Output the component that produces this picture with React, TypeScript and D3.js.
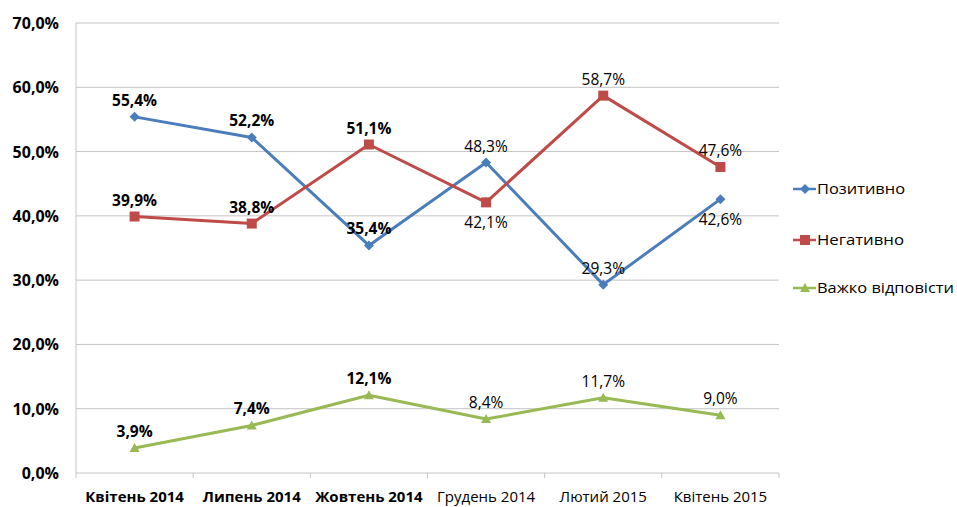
import React from "react";
import * as d3 from "d3";

const categories = ["Квітень 2014", "Липень 2014", "Жовтень 2014", "Грудень 2014", "Лютий 2015", "Квітень 2015"];
const positive = [55.4, 52.2, 35.4, 48.3, 29.3, 42.6];
const negative = [39.9, 38.8, 51.1, 42.1, 58.7, 47.6];
const hardToSay = [3.9, 7.4, 12.1, 8.4, 11.7, 9.0];
const yTicks = [0, 10, 20, 30, 40, 50, 60, 70];

// labels placed under the point instead of over it
const positiveBelow = [false, false, false, false, false, true];
const negativeBelow = [false, false, false, true, false, false];
const hardBelow = [false, false, false, false, false, false];

const W = 957;
const H = 507;
const margin = { top: 23, right: 178, bottom: 34, left: 76 };

const fmt = (v: number) => v.toFixed(1).replace(".", ",") + "%";
// the source picture renders the right half in a lighter weight
const weightAt = (i: number) => (i < 3 ? "bold" : "normal");

const series = [
  { name: "Позитивно", values: positive, below: positiveBelow, color: "#4a7ebb", shape: "diamond", legendY: 189, legendW: 88 },
  { name: "Негативно", values: negative, below: negativeBelow, color: "#be4b48", shape: "square", legendY: 240, legendW: 87 },
  { name: "Важко відповісти", values: hardToSay, below: hardBelow, color: "#98b954", shape: "triangle", legendY: 288, legendW: 137 },
];

const Marker = ({ shape, x, y, color }: { shape: string; x: number; y: number; color: string }) => {
  if (shape === "square") return <rect x={x - 5} y={y - 5} width={10} height={10} fill={color} />;
  if (shape === "diamond") return <path d={`M${x},${y - 5}L${x + 5},${y}L${x},${y + 5}L${x - 5},${y}Z`} fill={color} />;
  return <path d={`M${x},${y - 5}L${x + 5},${y + 4}L${x - 5},${y + 4}Z`} fill={color} />;
};

const App = () => {
  const x = d3
    .scaleBand()
    .domain(categories)
    .range([margin.left, W - margin.right]);
  const y = d3
    .scaleLinear()
    .domain([0, 70])
    .range([H - margin.bottom, margin.top]);
  const line = d3
    .line<number>()
    .x((_, i) => (x(categories[i]) as number) + x.bandwidth() / 2)
    .y((d) => y(d));

  return (
    <svg width={W} height={H} style={{ position: "absolute", left: 0, top: 0, fontFamily: "'Open Sans', 'Liberation Sans', sans-serif" }}>
      <rect width={W} height={H} fill="white" />
      {yTicks.map((t) => (
        <g key={t}>
          <line x1={margin.left} x2={W - margin.right} y1={y(t)} y2={y(t)} stroke="#c4c4c4" strokeWidth={1} />
          <text x={59} y={y(t) + 6} textAnchor="end" fontSize={16} fontWeight="bold" fill="#000">
            {fmt(t)}
          </text>
        </g>
      ))}
      <line x1={margin.left} x2={margin.left} y1={margin.top} y2={y(0)} stroke="#c4c4c4" />
      {categories.map((c, i) => (
        <g key={c}>
          <line x1={x(c) as number} x2={x(c) as number} y1={y(0)} y2={y(0) + 5} stroke="#c4c4c4" />
          {i === categories.length - 1 ? (
            <line x1={W - margin.right} x2={W - margin.right} y1={y(0)} y2={y(0) + 5} stroke="#c4c4c4" />
          ) : null}
          <text
            x={(x(c) as number) + x.bandwidth() / 2}
            y={502}
            textAnchor="middle"
            fontSize={15}
            fontWeight={weightAt(i)}
            fill="#000"
          >
            {c}
          </text>
        </g>
      ))}
      {series.map((s) => (
        <g key={s.name}>
          <path d={line(s.values) || ""} fill="none" stroke={s.color} strokeWidth={3} strokeLinejoin="round" />
          {s.values.map((v, i) => {
            const cx = (x(categories[i]) as number) + x.bandwidth() / 2;
            return <Marker key={i} shape={s.shape} x={cx} y={y(v)} color={s.color} />;
          })}
          {s.values.map((v, i) => {
            const cx = (x(categories[i]) as number) + x.bandwidth() / 2;
            const ty = s.below[i] ? y(v) + 26 : y(v) - 11;
            return (
              <text key={"l" + i} x={cx} y={ty} textAnchor="middle" fontSize={15.5} fontWeight={weightAt(i)} fill="#000">
                {fmt(v)}
              </text>
            );
          })}
          <line x1={793} x2={816} y1={s.legendY} y2={s.legendY} stroke={s.color} strokeWidth={2.5} />
          <Marker shape={s.shape} x={805} y={s.legendY} color={s.color} />
          <text x={817} y={s.legendY + 5} fontSize={14} fill="#000" textLength={s.legendW} lengthAdjust="spacingAndGlyphs">
            {s.name}
          </text>
        </g>
      ))}
    </svg>
  );
};

export default App;
